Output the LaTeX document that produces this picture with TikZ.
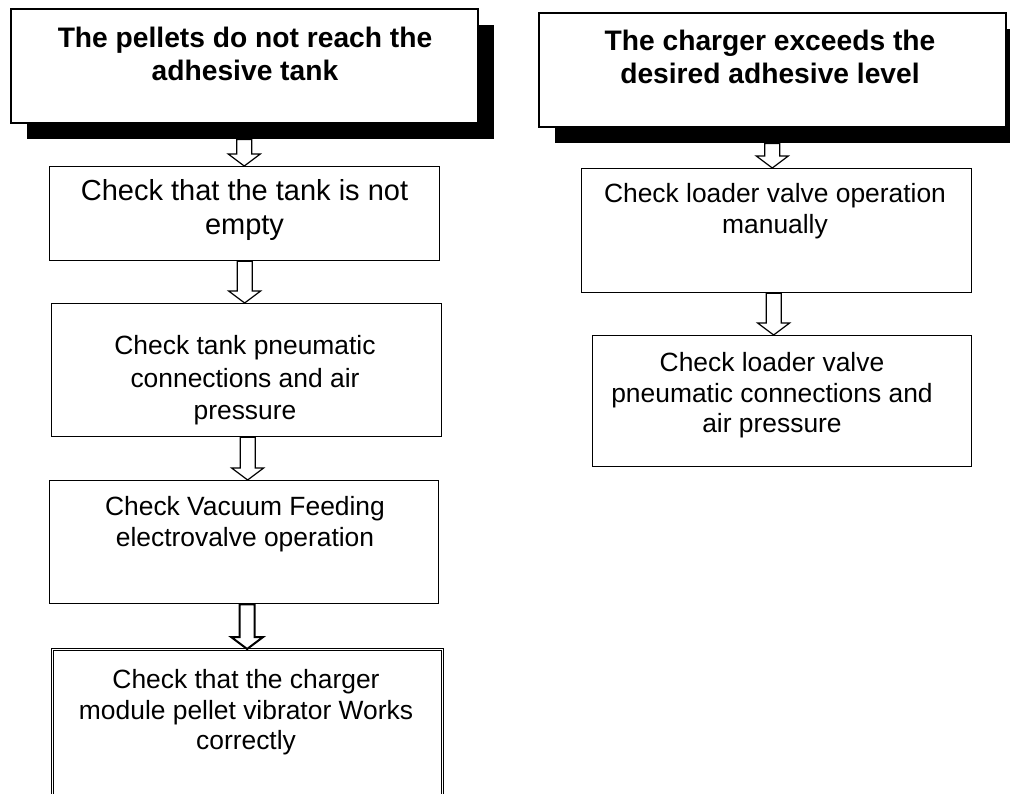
\documentclass[tikz,border=0pt]{standalone}
\usepackage{fontspec}
\setmainfont{Liberation Sans}
\usetikzlibrary{calc,shadows}
\tikzset{
  hdr/.style={draw, line width=1.5pt, fill=white, inner sep=0pt, anchor=north west,
    drop shadow={shadow xshift=16pt, shadow yshift=-16pt, fill=black, opacity=1}},
  stepbox/.style={draw, line width=1.3pt, fill=white, inner sep=0pt, anchor=north west},
  dblbox/.style={draw, line width=0.9pt, double=white, double distance=1.6pt, inner sep=0pt, anchor=north west},
  hdrtext/.style={anchor=north, inner sep=0pt, align=center, font=\fontsize{28.2}{33}\selectfont\bfseries},
  bigtext/.style={anchor=north, inner sep=0pt, align=center, font=\fontsize{29}{34}\selectfont},
  boxtext/.style={anchor=north, inner sep=0pt, align=center, font=\fontsize{26.4}{30.5}\selectfont},
  blockarrow/.style={draw, line width=1.2pt, fill=white, line join=miter}
}
\newcommand{\barrow}[3][]{%
  \path[blockarrow,#1] let \p1=(#2), \p2=(#3) in
    (\x1-7.5pt,\y1) -- (\x1+7.5pt,\y1) -- (\x1+7.5pt,\y2+12pt) -- (\x1+16pt,\y2+12pt)
    -- (\x1,\y2) -- (\x1-16pt,\y2+12pt) -- (\x1-7.5pt,\y2+12pt) -- cycle;}
\begin{document}
\begin{tikzpicture}[x=1pt,y=-1pt]
\useasboundingbox[fill=white] (0,0) rectangle (1010,793);
% left column
\node[hdr, minimum width=467pt, minimum height=114pt] (h1) at (10,8) {};
\node[hdrtext] (h1t) at (245,23.9) {\strut The pellets do not reach the\\adhesive tank};
\node[stepbox, minimum width=390pt, minimum height=94pt] (b1) at (49,166) {};
\node[bigtext] (b1t) at (244.5,176.2) {\strut Check that the tank is not\\empty};
\node[stepbox, minimum width=390pt, minimum height=133pt] (b2) at (51,303) {};
\node[boxtext, font=\fontsize{26.4}{32.5}\selectfont] (b2t) at (245,332) {\strut Check tank pneumatic\\connections and air\\pressure};
\node[stepbox, minimum width=389pt, minimum height=123pt] (b3) at (49,480) {};
\node[boxtext] (b3t) at (245,494) {\strut Check Vacuum Feeding\\electrovalve operation};
\node[dblbox, minimum width=390pt, minimum height=160pt] (b4) at (52,649) {};
\node[boxtext] (b4t) at (246,667) {\strut Check that the charger\\module pellet vibrator Works\\correctly};
% right column
\node[hdr, minimum width=467pt, minimum height=114pt] (h2) at (538,12) {};
\node[hdrtext] (h2t) at (770,27) {\strut The charger exceeds the\\desired adhesive level};
\node[stepbox, minimum width=390pt, minimum height=124pt] (r1) at (581,168) {};
\node[boxtext] (r1t) at (775,181) {\strut Check loader valve operation\\manually};
\node[stepbox, minimum width=379pt, minimum height=131pt] (r2) at (592,335) {};
\node[boxtext] (r2t) at (772,350) {\strut Check loader valve\\pneumatic connections and\\air pressure};
% arrows
\coordinate (h1s) at ($(h1.south)+(0,16)$);
\coordinate (h2s) at ($(h2.south)+(0,16)$);
\barrow{h1s}{b1.north}
\barrow{b1.south}{b2.north}
\barrow{$(b2.south)+(1,0)$}{b3.north}
\barrow[line width=2pt]{$(b3.south)+(3,0)$}{b4.north}
\barrow{h2s}{r1.north}
\barrow{$(r1.south)+(-3,0)$}{r2.north}
\end{tikzpicture}
\end{document}
